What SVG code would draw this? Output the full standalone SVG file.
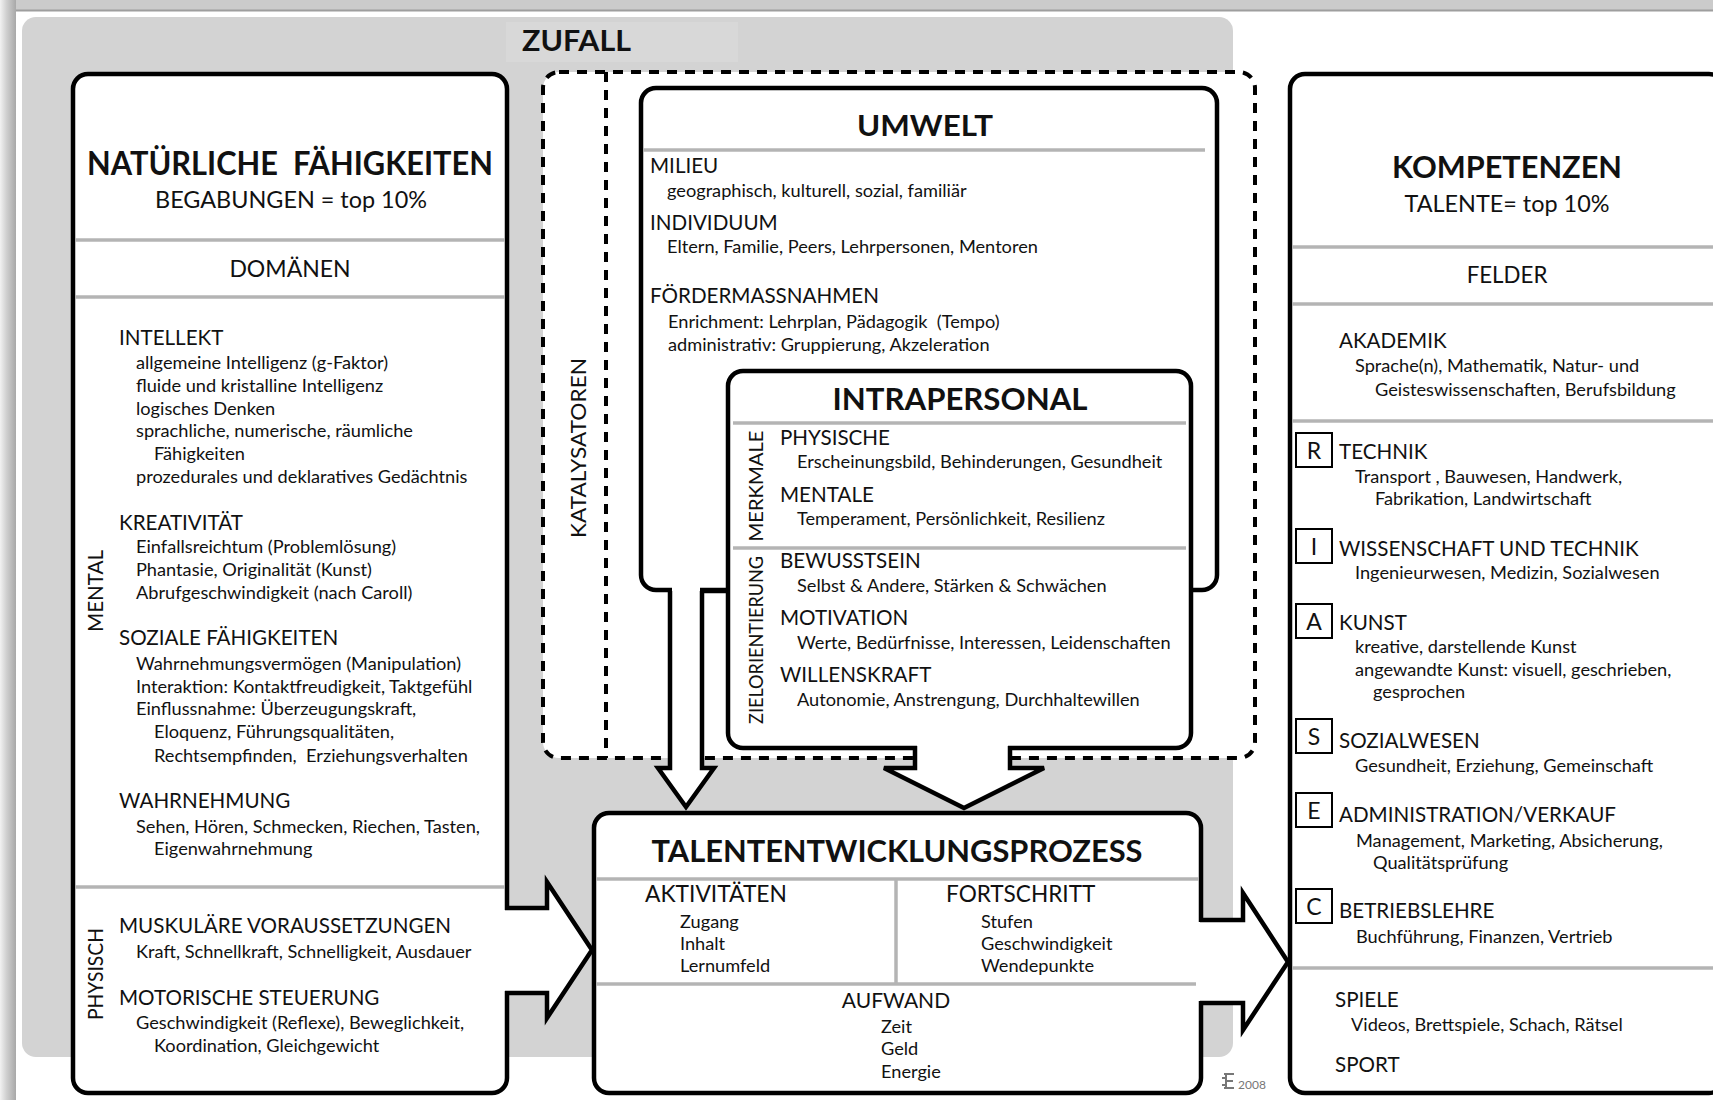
<svg xmlns="http://www.w3.org/2000/svg" width="1713" height="1100" viewBox="0 0 1713 1100">
<defs>
<linearGradient id="lb" x1="0" y1="0" x2="1" y2="0">
<stop offset="0" stop-color="#f2f2f2"/><stop offset="0.4" stop-color="#d0d0d0"/><stop offset="1" stop-color="#a8a8a8"/>
</linearGradient>
<style>
text{font-family:Lato,"Open Sans","Liberation Sans",sans-serif;fill:#111;white-space:pre}
.h{font-size:20.6px}
.s{font-size:18.2px}
.r{font-size:19px;text-anchor:middle}
.b{font-weight:700}
.m{text-anchor:middle}
.box{fill:#fff;stroke:#000;stroke-width:4.5;stroke-linejoin:round}
.sep{stroke:#b4b4b4;stroke-width:3.5;fill:none}
.arr{fill:none;stroke:#000;stroke-width:4.5;stroke-linejoin:miter}
.cov{fill:#fff}
.dash{fill:#fff;stroke:#000;stroke-width:4;stroke-dasharray:10 8}
.lb{fill:#fff;stroke:#000;stroke-width:2}
.lt{font-size:23px;text-anchor:middle}
</style>
</defs>
<rect width="1713" height="1100" fill="#fff"/>
<g id="frame">
<rect x="0" y="0" width="1713" height="10" fill="#cbcbcb"/>
<rect x="0" y="9.5" width="1713" height="2" fill="#9e9e9e"/>
<rect x="0" y="0" width="16" height="1100" fill="url(#lb)"/>
</g>
<g id="zufall">
<rect x="22" y="17" width="1211" height="1040" rx="14" fill="#d3d3d3"/>
<rect x="506" y="22" width="232" height="40" fill="#d8d8d8"/>
<text x="522" y="51" class="b" font-size="29" textLength="109" lengthAdjust="spacingAndGlyphs">ZUFALL</text>
</g>
<g id="katalysatoren">
<rect x="543" y="72" width="712" height="686" rx="16" class="dash"/>
<line x1="606" y1="72" x2="606" y2="758" stroke="#000" stroke-width="4" stroke-dasharray="10 8"/>
<text transform="rotate(-90 579 448)" x="579" y="455" class="h m" textLength="180" lengthAdjust="spacingAndGlyphs">KATALYSATOREN</text>
</g>
<g id="umwelt">
<rect x="641" y="88" width="576" height="502" rx="15" class="box"/>
<text x="925" y="136" class="b m" font-size="28" textLength="136" lengthAdjust="spacingAndGlyphs">UMWELT</text>
<line x1="643" y1="150" x2="1205" y2="150" class="sep"/>
<text x="650" y="173" class="h">MILIEU</text>
<text x="667" y="197" class="s">geographisch, kulturell, sozial, familiär</text>
<text x="650" y="230" class="h">INDIVIDUUM</text>
<text x="667" y="253" class="s">Eltern, Familie, Peers, Lehrpersonen, Mentoren</text>
<text x="650" y="303" class="h">FÖRDERMASSNAHMEN</text>
<text x="668" y="328" class="s" xml:space="preserve">Enrichment: Lehrplan, Pädagogik  (Tempo)</text>
<text x="668" y="351" class="s">administrativ: Gruppierung, Akzeleration</text>
</g>
<g id="intrapersonal">
<rect x="728" y="371" width="463" height="377" rx="15" class="box"/>
<text x="960" y="410" class="b m" font-size="31" textLength="255" lengthAdjust="spacingAndGlyphs">INTRAPERSONAL</text>
<line x1="733" y1="423" x2="1186" y2="423" class="sep"/>
<line x1="733" y1="548" x2="1186" y2="548" class="sep"/>
<text transform="rotate(-90 756 486)" x="756" y="493" class="r" textLength="111" lengthAdjust="spacingAndGlyphs">MERKMALE</text>
<text transform="rotate(-90 756 640)" x="756" y="647" class="r" textLength="168" lengthAdjust="spacingAndGlyphs">ZIELORIENTIERUNG</text>
<text x="780" y="445" class="h">PHYSISCHE</text>
<text x="797" y="468" class="s">Erscheinungsbild, Behinderungen, Gesundheit</text>
<text x="780" y="502" class="h">MENTALE</text>
<text x="797" y="525" class="s">Temperament, Persönlichkeit, Resilienz</text>
<text x="780" y="568" class="h">BEWUSSTSEIN</text>
<text x="797" y="592" class="s">Selbst &amp; Andere, Stärken &amp; Schwächen</text>
<text x="780" y="625" class="h">MOTIVATION</text>
<text x="797" y="649" class="s">Werte, Bedürfnisse, Interessen, Leidenschaften</text>
<text x="780" y="682" class="h">WILLENSKRAFT</text>
<text x="797" y="706" class="s">Autonomie, Anstrengung, Durchhaltewillen</text>
</g>
<g id="natuerliche-faehigkeiten">
<rect x="73" y="74" width="434" height="1019" rx="15" class="box"/>
<text x="290" y="175" class="b m" font-size="32" textLength="406" lengthAdjust="spacingAndGlyphs" xml:space="preserve">NATÜRLICHE  FÄHIGKEITEN</text>
<text x="291" y="208" class="m" font-size="23" textLength="272" lengthAdjust="spacingAndGlyphs">BEGABUNGEN = top 10%</text>
<line x1="75" y1="240" x2="505" y2="240" class="sep"/>
<text x="290" y="277" class="m" font-size="23">DOMÄNEN</text>
<line x1="75" y1="297" x2="505" y2="297" class="sep"/>
<line x1="75" y1="887" x2="505" y2="887" class="sep"/>
<text transform="rotate(-90 95 591)" x="95" y="599" class="m" font-size="22" textLength="82" lengthAdjust="spacingAndGlyphs">MENTAL</text>
<text transform="rotate(-90 95 974)" x="95" y="982" class="m" font-size="22" textLength="92" lengthAdjust="spacingAndGlyphs">PHYSISCH</text>
<text x="119" y="345" class="h">INTELLEKT</text>
<text x="136" y="369" class="s">allgemeine Intelligenz (g-Faktor)</text>
<text x="136" y="392" class="s">fluide und kristalline Intelligenz</text>
<text x="136" y="415" class="s">logisches Denken</text>
<text x="136" y="437" class="s">sprachliche, numerische, räumliche</text>
<text x="154" y="460" class="s">Fähigkeiten</text>
<text x="136" y="483" class="s">prozedurales und deklaratives Gedächtnis</text>
<text x="119" y="530" class="h">KREATIVITÄT</text>
<text x="136" y="553" class="s">Einfallsreichtum (Problemlösung)</text>
<text x="136" y="576" class="s">Phantasie, Originalität (Kunst)</text>
<text x="136" y="599" class="s">Abrufgeschwindigkeit (nach Caroll)</text>
<text x="119" y="645" class="h">SOZIALE FÄHIGKEITEN</text>
<text x="136" y="670" class="s">Wahrnehmungsvermögen (Manipulation)</text>
<text x="136" y="693" class="s">Interaktion: Kontaktfreudigkeit, Taktgefühl</text>
<text x="136" y="715" class="s">Einflussnahme: Überzeugungskraft,</text>
<text x="154" y="738" class="s">Eloquenz, Führungsqualitäten,</text>
<text x="154" y="762" class="s" xml:space="preserve">Rechtsempfinden,  Erziehungsverhalten</text>
<text x="119" y="808" class="h">WAHRNEHMUNG</text>
<text x="136" y="833" class="s">Sehen, Hören, Schmecken, Riechen, Tasten,</text>
<text x="154" y="855" class="s">Eigenwahrnehmung</text>
<text x="119" y="933" class="h">MUSKULÄRE VORAUSSETZUNGEN</text>
<text x="136" y="958" class="s">Kraft, Schnellkraft, Schnelligkeit, Ausdauer</text>
<text x="119" y="1005" class="h">MOTORISCHE STEUERUNG</text>
<text x="136" y="1029" class="s">Geschwindigkeit (Reflexe), Beweglichkeit,</text>
<text x="154" y="1052" class="s">Koordination, Gleichgewicht</text>
</g>
<g id="talententwicklungsprozess">
<rect x="594" y="813" width="607" height="280" rx="15" class="box"/>
<text x="897" y="862" class="b m" font-size="31" textLength="491" lengthAdjust="spacingAndGlyphs">TALENTENTWICKLUNGSPROZESS</text>
<line x1="596" y1="879" x2="1199" y2="879" class="sep"/>
<line x1="896" y1="879" x2="896" y2="984" class="sep"/>
<line x1="596" y1="984" x2="1199" y2="984" class="sep"/>
<text x="645" y="902" font-size="22.8">AKTIVITÄTEN</text>
<text x="680" y="928" class="s">Zugang</text>
<text x="680" y="950" class="s">Inhalt</text>
<text x="680" y="972" class="s">Lernumfeld</text>
<text x="946" y="902" font-size="22.6">FORTSCHRITT</text>
<text x="981" y="928" class="s">Stufen</text>
<text x="981" y="950" class="s">Geschwindigkeit</text>
<text x="981" y="972" class="s">Wendepunkte</text>
<text x="896" y="1008" class="m" font-size="21">AUFWAND</text>
<text x="881" y="1033" class="s">Zeit</text>
<text x="881" y="1055" class="s">Geld</text>
<text x="881" y="1078" class="s">Energie</text>
</g>
<g id="kompetenzen">
<rect x="1290" y="74" width="434" height="1019" rx="15" class="box"/>
<text x="1507" y="178" class="b m" font-size="31" textLength="230" lengthAdjust="spacingAndGlyphs">KOMPETENZEN</text>
<text x="1507" y="212" class="m" font-size="23" textLength="205" lengthAdjust="spacingAndGlyphs">TALENTE= top 10%</text>
<line x1="1292" y1="247" x2="1713" y2="247" class="sep"/>
<text x="1507" y="283" class="m" font-size="22.3">FELDER</text>
<line x1="1292" y1="304" x2="1713" y2="304" class="sep"/>
<line x1="1292" y1="421" x2="1713" y2="421" class="sep"/>
<line x1="1292" y1="968" x2="1713" y2="968" class="sep"/>
<text x="1339" y="348" class="h">AKADEMIK</text>
<text x="1355" y="372" class="s">Sprache(n), Mathematik, Natur- und</text>
<text x="1375" y="396" class="s">Geisteswissenschaften, Berufsbildung</text>
<rect x="1296" y="433" width="36" height="34" class="lb"/><text x="1314" y="459" class="lt">R</text>
<text x="1339" y="459" class="h">TECHNIK</text>
<text x="1355" y="483" class="s">Transport , Bauwesen, Handwerk,</text>
<text x="1375" y="505" class="s">Fabrikation, Landwirtschaft</text>
<rect x="1296" y="529" width="36" height="34" class="lb"/><text x="1314" y="555" class="lt">I</text>
<text x="1339" y="556" class="h">WISSENSCHAFT UND TECHNIK</text>
<text x="1355" y="579" class="s">Ingenieurwesen, Medizin, Sozialwesen</text>
<rect x="1296" y="604" width="36" height="34" class="lb"/><text x="1314" y="630" class="lt">A</text>
<text x="1339" y="630" class="h">KUNST</text>
<text x="1355" y="653" class="s">kreative, darstellende Kunst</text>
<text x="1355" y="676" class="s">angewandte Kunst: visuell, geschrieben,</text>
<text x="1373" y="698" class="s">gesprochen</text>
<rect x="1296" y="719" width="36" height="34" class="lb"/><text x="1314" y="745" class="lt">S</text>
<text x="1339" y="748" class="h">SOZIALWESEN</text>
<text x="1355" y="772" class="s">Gesundheit, Erziehung, Gemeinschaft</text>
<rect x="1296" y="793" width="36" height="34" class="lb"/><text x="1314" y="819" class="lt">E</text>
<text x="1339" y="822" class="h">ADMINISTRATION/VERKAUF</text>
<text x="1356" y="847" class="s">Management, Marketing, Absicherung,</text>
<text x="1373" y="869" class="s">Qualitätsprüfung</text>
<rect x="1296" y="889" width="36" height="34" class="lb"/><text x="1314" y="915" class="lt">C</text>
<text x="1339" y="918" class="h">BETRIEBSLEHRE</text>
<text x="1356" y="943" class="s">Buchführung, Finanzen, Vertrieb</text>
<text x="1335" y="1007" class="h">SPIELE</text>
<text x="1351" y="1031" class="s">Videos, Brettspiele, Schach, Rätsel</text>
<text x="1335" y="1072" class="h">SPORT</text>
</g>
<g id="connectors">
<rect x="672" y="585" width="28" height="10" class="cov"/>
<path d="M670,591 V768 H658 L686,807 L714,768 H702 V591 Z" class="cov"/>
<path d="M670,591 V768 H658 L686,807 L714,768 H702 V591" class="arr"/>
<line x1="702" y1="591" x2="730" y2="591" stroke="#000" stroke-width="4.5"/>
<rect x="917" y="743" width="91" height="10" class="cov"/>
<path d="M915,748 V768 H884 L964,808 L1044,768 H1010 V748 Z" class="cov"/>
<path d="M915,746 V768 H884 L964,808 L1044,768 H1010 V746" class="arr"/>
<rect x="502" y="910" width="10" height="81" class="cov"/>
<path d="M505,908 H547 V882 L592,950 L547,1018 V993 H505 Z" class="cov"/>
<path d="M505,908 H547 V882 L592,950 L547,1018 V993 H505" class="arr"/>
<rect x="1196" y="922" width="10" height="79" class="cov"/>
<path d="M1200,920 H1243 V893 L1288,962 L1243,1030 V1003 H1200 Z" class="cov"/>
<path d="M1200,920 H1243 V893 L1288,962 L1243,1030 V1003 H1200" class="arr"/>
</g>
<g id="copyright">
<path d="M1224,1074 h10 M1226,1074 v14 M1224,1088 h10 M1226,1081 h7 M1222,1078 h3 M1222,1085 h3" stroke="#777" stroke-width="2" fill="none"/>
<text x="1238" y="1089" font-size="12" style="fill:#777" font-family="'Liberation Sans',sans-serif">2008</text>
</g>
</svg>
